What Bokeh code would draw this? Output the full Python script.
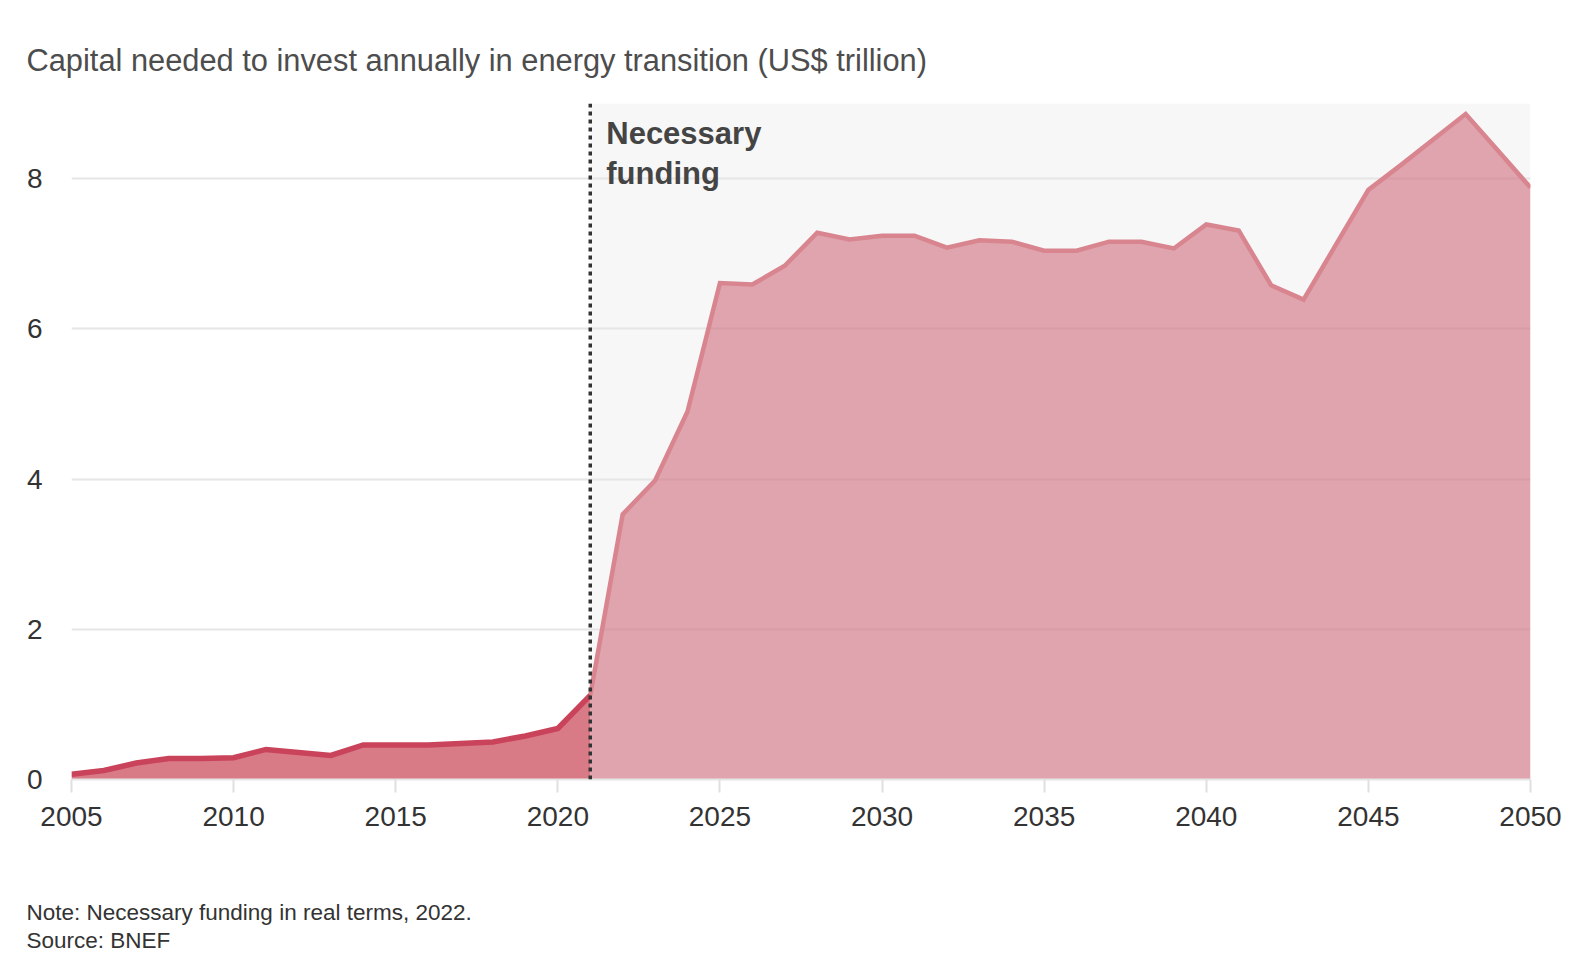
from bokeh.plotting import figure
from bokeh.layouts import column
from bokeh.models import Range1d, FixedTicker, Label, Span
from bokeh.embed import file_html
from bokeh.resources import INLINE

# ---- data ----
hist_years = list(range(2005, 2022))
hist_values = [0.07, 0.12, 0.22, 0.28, 0.28, 0.29, 0.40, 0.36, 0.32, 0.46,
               0.46, 0.46, 0.48, 0.50, 0.58, 0.68, 1.12]
proj_years = list(range(2021, 2051))
proj_values = [1.12, 3.53, 3.98, 4.90, 6.61, 6.59, 6.84, 7.28, 7.19, 7.24,
               7.24, 7.08, 7.18, 7.16, 7.04, 7.04, 7.16, 7.16, 7.07, 7.39,
               7.31, 6.58, 6.39, 7.12, 7.85, 8.18, 8.52, 8.86, 8.37, 7.88]
x_ticks = [2005, 2010, 2015, 2020, 2025, 2030, 2035, 2040, 2045, 2050]
y_ticks = [0, 2, 4, 6, 8]
grid_ticks = [2, 4, 6, 8]
divider_year = 2021
x_start, x_end = 2005, 2050
y_start, y_end = 0, 9

title_text = "Capital needed to invest annually in energy transition (US$ trillion)"
note_text = "Note: Necessary funding in real terms, 2022."
source_text = "Source: BNEF"
annot_lines = ["Necessary", "funding"]

FONT = "Liberation Sans"
W = 1588


def text_panel(height):
    f = figure(width=W, height=height, output_backend="svg",
               toolbar_location=None, x_range=Range1d(0, W),
               y_range=Range1d(0, height), x_axis_type=None,
               y_axis_type=None, min_border=0, frame_align=False)
    f.outline_line_color = None
    f.xgrid.visible = False
    f.ygrid.visible = False
    return f


# ---- title panel ----
t = text_panel(93)
t.add_layout(Label(x=26, y=33, text=title_text, text_font=FONT,
                   text_font_size="30.8px", text_color="#4d4d4d",
                   text_baseline="alphabetic", text_align="left"))

# ---- main chart ----
p = figure(width=W, height=770, output_backend="svg", toolbar_location=None,
           x_range=Range1d(x_start, x_end), y_range=Range1d(y_start, y_end),
           min_border_left=71, min_border_right=58, min_border_top=10,
           min_border_bottom=84, frame_align=False)
p.outline_line_color = None

p.xgrid.grid_line_color = None
p.ygrid.ticker = FixedTicker(ticks=grid_ticks)
p.ygrid.grid_line_color = "#e6e6e6"
p.ygrid.grid_line_width = 2

# shaded projection region (below the grid)
p.quad(left=[divider_year], right=[x_end], bottom=[y_start], top=[y_end],
       fill_color="#f7f7f7", line_color=None, level="image")

p.varea(x=hist_years, y1=[0] * len(hist_years), y2=hist_values,
        fill_color="#d97a87", fill_alpha=1.0)
p.varea(x=proj_years, y1=[0] * len(proj_years), y2=proj_values,
        fill_color="#cf6d7b", fill_alpha=0.6)

p.line(proj_years, proj_values, line_color="#d8858f", line_width=4.5,
       line_join="miter")
p.line(hist_years, hist_values, line_color="#c9435a", line_width=5.5,
       line_join="miter")

p.add_layout(Span(location=divider_year, dimension="height",
                  line_color="#333333", line_width=3.5, line_dash="4 4"))

for txt, yv in zip(annot_lines, [8.597, 8.065]):
    p.add_layout(Label(x=divider_year, y=yv, x_offset=16, text=txt,
                       text_font=FONT, text_font_style="bold",
                       text_font_size="31px", text_color="#444444",
                       text_baseline="alphabetic", text_align="left"))

p.xaxis.ticker = FixedTicker(ticks=x_ticks)
p.xaxis.axis_line_color = "#e6e6e6"
p.xaxis.axis_line_width = 2
p.xaxis.major_tick_line_color = "#e0e0e0"
p.xaxis.major_tick_line_width = 2
p.xaxis.major_tick_in = 0
p.xaxis.major_tick_out = 13
p.xaxis.minor_tick_line_color = None
p.xaxis.major_label_text_font = FONT
p.xaxis.major_label_text_font_size = "28px"
p.xaxis.major_label_text_color = "#333333"
p.xaxis.major_label_standoff = 14

p.yaxis.ticker = FixedTicker(ticks=y_ticks)
p.yaxis.axis_line_color = None
p.yaxis.major_tick_line_color = None
p.yaxis.minor_tick_line_color = None
p.yaxis.major_tick_in = 0
p.yaxis.major_tick_out = 0
p.yaxis.major_label_text_font = FONT
p.yaxis.major_label_text_font_size = "28px"
p.yaxis.major_label_text_color = "#333333"
p.yaxis.major_label_standoff = 29

# ---- notes panel ----
n = text_panel(100)
n.add_layout(Label(x=26, y=51, text=note_text, text_font=FONT,
                   text_font_size="22.5px", text_color="#333333",
                   text_baseline="alphabetic", text_align="left"))
n.add_layout(Label(x=26, y=23.5, text=source_text, text_font=FONT,
                   text_font_size="22.5px", text_color="#333333",
                   text_baseline="alphabetic", text_align="left"))

layout = column(t, p, n, spacing=0)
open("out.html", "w").write(file_html(layout, INLINE))
